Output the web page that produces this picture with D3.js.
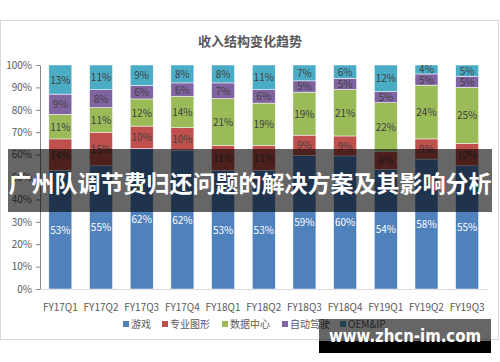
<!DOCTYPE html>
<html><head><meta charset="utf-8">
<script src="https://cdn.jsdelivr.net/npm/d3@7"></script>
<style>body{margin:0;background:#fff}svg{display:block}</style>
</head><body><svg id="c" width="500" height="362"></svg>
<script>
const categories = ["FY17Q1","FY17Q2","FY17Q3","FY17Q4","FY18Q1","FY18Q2","FY18Q3","FY18Q4","FY19Q1","FY19Q2","FY19Q3"];
const seriesNames = ["游戏","专业图形","数据中心","自动驾驶","OEM&IP"];
const gaming = [53,55,62,62,53,53,59,60,54,58,55];
const proViz = [14,15,10,10,11,11,9,9,8,9,10];
const dataCenter = [11,11,12,14,21,19,19,21,22,24,25];
const autoDrive = [9,8,6,6,7,6,5,5,5,5,5];
const oemIp = [13,11,9,8,8,11,7,6,12,4,5];
const yTicks = [0,0.1,0.2,0.3,0.4,0.5,0.6,0.7,0.8,0.9,1];
const colors = ["#4F81BD","#C0504D","#9BBB59","#8064A2","#4BACC6"];
const title = "收入结构变化趋势";
const bannerText = "广州队调节费归还问题的解决方案及其影响分析";
const watermark = "www.zhcn-im.com";

const seriesArrays = [gaming, proViz, dataCenter, autoDrive, oemIp];
const rows = categories.map((c,i)=>{const r={cat:c}; seriesNames.forEach((s,j)=>r[s]=seriesArrays[j][i]); return r;});
const stack = d3.stack().keys(seriesNames).offset(d3.stackOffsetExpand)(rows);

const svg = d3.select("#c");
const font = "'Microsoft YaHei','Noto Sans CJK SC',sans-serif";
svg.append("rect").attr("x",0.5).attr("y",20.5).attr("width",498).attr("height",319).attr("fill","#fff").attr("stroke","#d9d9d9");

svg.append("text").attr("x",250).attr("y",46).attr("text-anchor","middle").attr("font-family",font)
  .attr("font-size",13).attr("font-weight","bold").attr("fill","#595959").text(title);

const x = d3.scaleBand().domain(categories).range([40,487.5]).paddingInner(0.435).paddingOuter(0.2175);
const y = d3.scaleLinear().domain([0,1]).range([289,65]);

const gy = svg.append("g").attr("transform","translate(40,0)")
  .call(d3.axisLeft(y).tickValues(yTicks).tickFormat(d3.format(".0%")).tickSize(4).tickSizeOuter(0));
gy.select(".domain").attr("stroke","#868686");
gy.selectAll(".tick line").attr("stroke","#868686");
gy.selectAll(".tick text").attr("font-family",font).attr("font-size",10).attr("fill","#595959").attr("x",-8);

const gx = svg.append("g").attr("transform","translate(0,289)")
  .call(d3.axisBottom(x).tickSize(0).tickSizeOuter(0));
gx.select(".domain").attr("stroke","#d9d9d9");
gx.selectAll(".tick text").attr("font-family",font).attr("font-size",10).attr("fill","#595959").attr("dy","1.9em");

stack.forEach((layer,j)=>{
  const g = svg.append("g");
  g.selectAll("rect").data(layer).enter().append("rect")
    .attr("x",d=>x(d.data.cat)).attr("width",x.bandwidth())
    .attr("y",d=>y(d[1])).attr("height",d=>y(d[0])-y(d[1]))
    .attr("fill",colors[j]).attr("stroke","#fff").attr("stroke-width",0.5);
  g.selectAll("text").data(layer).enter().append("text")
    .attr("x",d=>x(d.data.cat)+x.bandwidth()/2).attr("y",d=>(y(d[0])+y(d[1]))/2+4)
    .attr("text-anchor","middle").attr("font-family",font).attr("font-size",10)
    .attr("fill",j===0?"#fff":"#404040").text(d=>d.data[seriesNames[j]]+"%");
});

const legX = [123,162,222,282,340];
const lg = svg.append("g");
seriesNames.forEach((s,j)=>{
  lg.append("rect").attr("x",legX[j]).attr("y",321).attr("width",6).attr("height",6).attr("fill",colors[j]);
  lg.append("text").attr("x",legX[j]+8).attr("y",328).attr("font-family",font).attr("font-size",10).attr("fill","#595959").text(s);
});

svg.append("rect").attr("x",8).attr("y",149).attr("width",484).attr("height",63).attr("fill","rgba(0,0,0,0.6)");
svg.append("text").attr("x",250).attr("y",192).attr("text-anchor","middle").attr("font-family",font)
  .attr("font-size",23).attr("font-weight","bold").attr("fill","#fff").text(bannerText);

svg.append("rect").attr("x",319).attr("y",319).attr("width",172).attr("height",22).attr("fill","rgba(0,0,0,0.6)");
svg.append("rect").attr("x",319).attr("y",341).attr("width",172).attr("height",12).attr("fill","#000");
svg.append("text").attr("x",405).attr("y",342).attr("text-anchor","middle").attr("font-family","'DejaVu Sans',sans-serif")
  .attr("font-size",17).attr("font-weight","bold").attr("fill","#fff")
  .attr("textLength",152).attr("lengthAdjust","spacingAndGlyphs").text(watermark);
</script></body></html>
